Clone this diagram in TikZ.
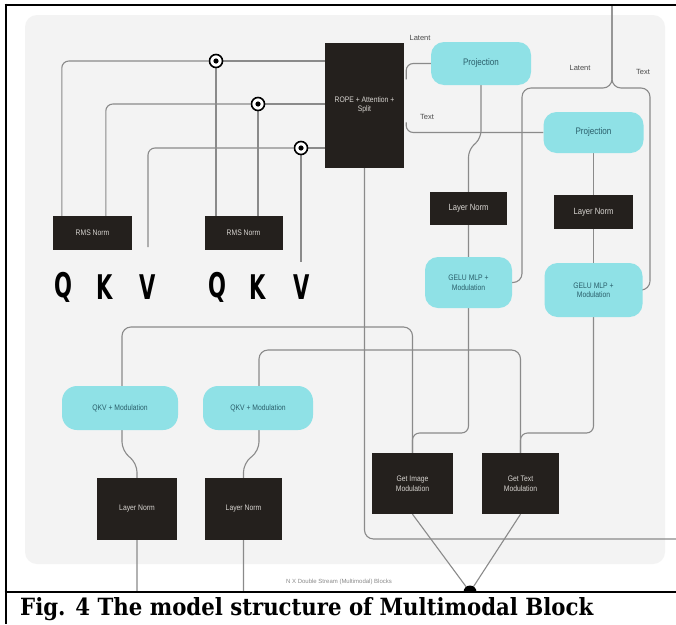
\documentclass[tikz,border=0pt]{standalone}
\usepackage{fontspec}
\setmainfont{Liberation Sans}
\newfontfamily\capfont{DejaVu Serif}
\newfontfamily\qkvfont{DejaVu Sans}
\usetikzlibrary{calc}
\definecolor{boxc}{HTML}{24201D}
\definecolor{boxtext}{HTML}{D9D6D2}
\definecolor{pillc}{HTML}{8FE1E6}
\definecolor{pilltext}{HTML}{2A5E6A}
\definecolor{wirec}{HTML}{8A8A8A}
\definecolor{bgc}{HTML}{F3F3F3}
\definecolor{lblc}{HTML}{4A4A4A}
\pgfdeclarelayer{back}
\pgfdeclarelayer{bg}
\pgfsetlayers{back,bg,main}
\newcommand{\cnd}[1]{\scalebox{0.85}[1]{#1}}
\begin{document}
\begin{tikzpicture}[x=1pt,y=-1pt,
  darkbox/.style={fill=boxc, text=boxtext, font=\fontsize{8}{9.5}\selectfont, align=center, inner sep=0pt},
  pill/.style={fill=pillc, text=pilltext, rounded corners=13pt, font=\fontsize{8}{9.5}\selectfont, align=center, inner sep=0pt},
  wire/.style={draw=wirec, line width=1.1pt, rounded corners=7pt},
  odot/.style={circle, draw=black, line width=1.6pt, fill=white, minimum size=13pt, inner sep=0pt,
    path picture={\fill[black] (path picture bounding box.center) circle (2.6pt);}},
  letter/.style={font=\qkvfont\bfseries\fontsize{34}{34}\selectfont, text=black, inner sep=0pt},
  lbl/.style={font=\fontsize{7.5}{8}\selectfont, text=lblc, inner sep=0pt},
  frame/.style={draw=black, line width=2.6pt}
]
\useasboundingbox (0,0) rectangle (676,624);
\begin{pgfonlayer}{back}
  \fill[white] (0,0) rectangle (676,624);
  \fill[bgc, rounded corners=12pt] (25,15) rectangle (665,564);
\end{pgfonlayer}

% ---------- nodes ----------
\node[darkbox, minimum width=79pt, minimum height=125pt] (rope) at (364.5,105) {\cnd{ROPE + Attention +}\\ \cnd{Split}};
\node[darkbox, minimum width=79pt, minimum height=34pt] (rms1) at (92.5,233) {\cnd{RMS Norm}};
\node[darkbox, minimum width=78pt, minimum height=34pt] (rms2) at (243.5,233) {\cnd{RMS Norm}};

\node[odot] (c1) at (216,61) {};
\node[odot] (c2) at (258,104) {};
\node[odot] (c3) at (301,148) {};

\node[letter] (q1) at (63,287) {\scalebox{0.62}[1]{Q}};
\node[letter] (k1) at (105,287) {\scalebox{0.62}[1]{K}};
\node[letter] (v1) at (148,287) {\scalebox{0.62}[1]{V}};
\node[letter] (q2) at (217,287) {\scalebox{0.62}[1]{Q}};
\node[letter] (k2) at (258,287) {\scalebox{0.62}[1]{K}};
\node[letter] (v2) at (302,287) {\scalebox{0.62}[1]{V}};
\coordinate (v1top) at (148,247);
\coordinate (v2top) at (301,262);

\node[pill, minimum width=100pt, minimum height=43pt, font=\fontsize{9.5}{11}\selectfont] (proj1) at (481,63.5) {\cnd{Projection}};
\node[pill, minimum width=100pt, minimum height=41pt, font=\fontsize{9.5}{11}\selectfont] (proj2) at (593.5,132.5) {\cnd{Projection}};
\node[darkbox, minimum width=77pt, minimum height=33pt, font=\fontsize{9}{10}\selectfont] (ln1) at (468.5,208.5) {\cnd{Layer Norm}};
\node[darkbox, minimum width=79pt, minimum height=34pt, font=\fontsize{9}{10}\selectfont] (ln2) at (593.5,212) {\cnd{Layer Norm}};
\node[pill, minimum width=87pt, minimum height=51pt] (gelu1) at (468.5,282.5) {\cnd{GELU MLP +}\\ \cnd{Modulation}};
\node[pill, minimum width=98pt, minimum height=54pt] (gelu2) at (593.5,290) {\cnd{GELU MLP +}\\ \cnd{Modulation}};

\node[pill, minimum width=116pt, minimum height=44pt, rounded corners=15pt] (qkv1) at (120,408) {\cnd{QKV + Modulation}};
\node[pill, minimum width=110pt, minimum height=44pt, rounded corners=15pt] (qkv2) at (258,408) {\cnd{QKV + Modulation}};
\node[darkbox, minimum width=80pt, minimum height=62pt] (ln3) at (137,509) {\cnd{Layer Norm}};
\node[darkbox, minimum width=77pt, minimum height=62pt] (ln4) at (243.5,509) {\cnd{Layer Norm}};
\node[darkbox, minimum width=81pt, minimum height=61pt] (gimg) at (412.5,483.5) {\cnd{Get Image}\\ \cnd{Modulation}};
\node[darkbox, minimum width=77pt, minimum height=61pt] (gtxt) at (520.5,483.5) {\cnd{Get Text}\\ \cnd{Modulation}};

\node[circle, fill=black, minimum size=13pt, inner sep=0pt] (jn) at (470,592) {};

\node[lbl] (lat1) at (420,38) {Latent};
\node[lbl] (txt1) at (427,117) {Text};
\node[lbl] (lat2) at (580,68) {Latent};
\node[lbl] (txt2) at (643,72) {Text};
\node[lbl, font=\fontsize{6}{7}\selectfont, text=wirec] (nx) at (339,582) {N X Double Stream (Multimodal) Blocks};

\coordinate (topin) at (612,5);
\coordinate (rightout) at (676,539);
\coordinate (botA) at (137,594);
\coordinate (botB) at (243.5,594);

% ---------- wires ----------
\begin{pgfonlayer}{bg}
  \draw[wire] ([xshift=9pt]rms1.north west) |- (c1.west);
  \draw[wire] (c1.east) -- (c1.east -| rope.west);
  \draw[wire] ([xshift=53pt]rms1.north west) |- (c2.west);
  \draw[wire] (c2.east) -- (c2.east -| rope.west);
  \draw[wire] (v1top) |- (c3.west);
  \draw[wire] (c3.east) -- (c3.east -| rope.west);
  \draw[wire] (c1.south) -- (c1.south |- rms2.north);
  \draw[wire] (c2.south) -- (c2.south |- rms2.north);
  \draw[wire] (c3.south) -- (v2top);
  \draw[wire] ([xshift=2pt,yshift=-37pt]rope.north east) |- (proj1.west);
  \draw[wire] ([xshift=2pt,yshift=-80pt]rope.north east) |- (proj2.west);
  \draw[wire, rounded corners=9pt] (topin) |- (522,88) |- (gelu1.east);
  \draw[wire, rounded corners=9pt] (topin) |- (650,88) |- (gelu2.east);
  \draw[wire] (proj1.south) -- (481,138) -- (468.5,150) -- (gelu1.north);
  \draw[wire] (proj2.south) -- (gelu2.north);
  \draw[wire] (gelu1.south) |- (412.5,433) -- (gimg.north);
  \draw[wire] (gelu2.south) |- (520.5,433) -- (gtxt.north);
  \draw[wire, rounded corners=9pt] (botA) -- (137,463) -- (122,451) -- (122,327) -- (412.5,327) -- (gimg.north);
  \draw[wire, rounded corners=9pt] (botB) -- (243.5,463) -- (259,451) -- (259,350) -- (520.5,350) -- (gtxt.north);
  \draw[wire, rounded corners=9pt] (rope.south) |- (rightout);
  \draw[wire] (gimg.south) -- (jn.center);
  \draw[wire] (gtxt.south) -- (jn.center);
\end{pgfonlayer}

% ---------- caption area and frame ----------
\fill[white] (6,592) rectangle (676,624);
\draw[frame] (4.7,5) -- (676,5);
\draw[frame] (6,3.7) -- (6,624);
\draw[frame] (4.7,592) -- (676,592);
\node[anchor=base west, inner sep=0pt] (cap) at (20,615) {\resizebox{573pt}{18pt}{\capfont\bfseries Fig. 4 The model structure of Multimodal Block}};
\end{tikzpicture}
\end{document}
